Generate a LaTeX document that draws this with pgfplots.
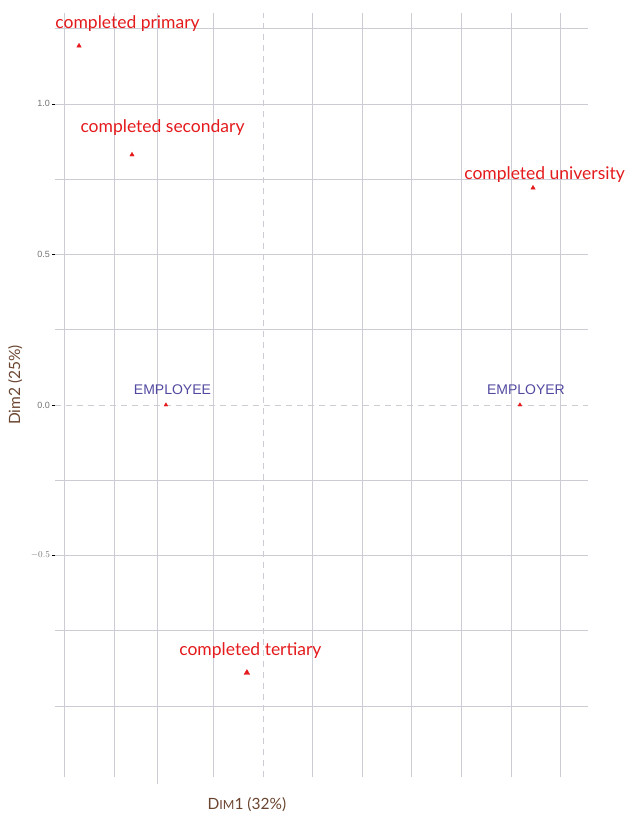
\documentclass[border=0pt]{standalone}
\usepackage{fontspec}
\setmainfont{Lato}
\newfontfamily\arialfont{Liberation Sans}
\usepackage{pgfplots}
\pgfplotsset{compat=1.18}
\usetikzlibrary{calc}
\definecolor{ptred}{HTML}{E41A1C}
\definecolor{lblue}{HTML}{5149A0}
\definecolor{labbrown}{HTML}{6B4530}
\definecolor{gridc}{HTML}{CCCCD4}

\pgfplotstableread{
x      y      dx    dy   lab
-0.927 1.193  48.5  -22  {completed primary}
-0.660 0.831  30.5  -27  {completed secondary}
1.361  0.721  11.5  -13  {completed university}
}\colpts
\pgfplotstableread{
x      y      dx    dy   lab
-0.081 -0.890 3.5   -22  {completed tertiary}
}\terpts
\pgfplotstableread{
x      y     dx   dy   lab
-0.489 0.0   6.5  -15  EMPLOYEE
1.295  0.0   6    -15  EMPLOYER
}\rowpts

\begin{document}
\begin{tikzpicture}
\begin{axis}[
  scale only axis, width=533pt, height=764pt,
  xmin=-1.048, xmax=1.638, ymin=-1.236, ymax=1.302,
  axis line style={draw=none},
  clip=false,
  xtick={-1,-0.75,-0.53,-0.25,0.25,0.5,0.75,1,1.25,1.5}, xticklabels={},
  extra x ticks={0}, extra x tick labels={},
  ytick={-0.5,0.5,1}, yticklabels={$-0.5$,0.5,1.0},
  minor ytick={-1,-0.75,-0.25,0.25,0.75,1.25},
  extra y ticks={0}, extra y tick labels={0.0},
  grid=both,
  major grid style={gridc, line width=0.8pt},
  minor grid style={gridc, line width=0.8pt},
  minor tick length=0pt,
  x tick style={draw=none},
  xtick pos=bottom, ytick pos=left,
  tick align=outside,
  major tick length=2.5pt,
  y tick style={black, line width=0.6pt},
  extra x tick style={major grid style={gridc, dash pattern=on 6pt off 5pt, line width=0.8pt}},
  extra y tick style={major grid style={gridc, dash pattern=on 6pt off 5pt, line width=0.8pt}},
  y tick label style={font=\arialfont\fontsize{9}{9}\selectfont, color=black!55, xshift=1pt},
  /pgf/number format/assume math mode=true,
  xlabel={D{\fontsize{12.5}{12.5}\selectfont IM}1 (32\%)},
  ylabel={Dim2 (25\%)},
  xlabel style={font=\fontsize{15.5}{15.5}\selectfont, color=labbrown, at={(rel axis cs:0.36,0)}, anchor=north, yshift=-17pt},
  ylabel style={font=\fontsize{15.5}{15.5}\selectfont, color=labbrown, at={(rel axis cs:0,0.513)}, anchor=south, yshift=29pt},
  point meta=explicit symbolic,
  visualization depends on={\thisrow{dx} \as \ddx},
  visualization depends on={\thisrow{dy} \as \ddy},
  redlab/.style={nodes near coords, nodes near coords align={center},
    every node near coord/.append style={font=\fontsize{17.5}{17.5}\selectfont, text=ptred, xshift=\ddx pt, yshift=-\ddy pt}},
]
\coordinate (ext) at (axis cs:-0.53,-1.236);
\addplot[only marks, mark=triangle*, mark size=2.5pt, color=ptred, redlab]
  table[x=x, y=y, meta=lab] {\colpts};
\addplot[only marks, mark=triangle*, mark size=3.3pt, color=ptred, redlab]
  table[x=x, y=y, meta=lab] {\terpts};
\addplot[only marks, mark=triangle*, mark size=2.2pt, color=ptred,
  nodes near coords, nodes near coords align={center},
  every node near coord/.append style={font=\arialfont\fontsize{14}{14}\selectfont, text=lblue, xshift=\ddx pt, yshift=-\ddy pt}]
  table[x=x, y=y, meta=lab] {\rowpts};
\end{axis}
\draw[gridc, line width=0.8pt] (ext) -- ++(0,-7pt);
\pgfresetboundingbox
\path ($(current axis.south west)+(-55pt,-36pt)$) rectangle ($(current axis.north east)+(37pt,13pt)$);
\end{tikzpicture}
\end{document}
